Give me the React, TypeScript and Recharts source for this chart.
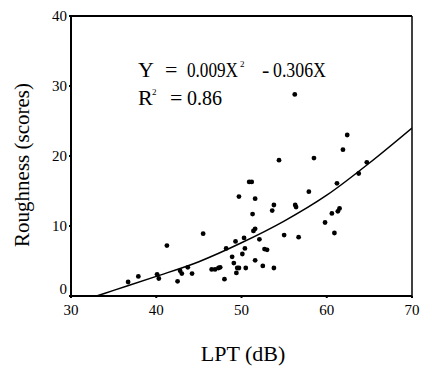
import React from "react";
import {
  ComposedChart, Scatter, Line, XAxis, YAxis, ReferenceLine,
} from "recharts";

// LPT (dB) vs roughness scores
const lpt = [
  36.7, 37.9, 40.1, 40.3, 41.25, 42.5, 42.8, 43.0, 43.7, 44.2,
  45.5, 46.5, 46.9, 47.3, 47.5, 48.0, 48.2, 48.9, 49.1, 49.3,
  49.4, 49.5, 49.7, 49.7, 50.1, 50.3, 50.4, 50.5, 50.9, 51.2,
  51.3, 51.4, 51.6, 51.6, 51.6, 52.1, 52.5, 52.7, 53.0, 53.6,
  53.8, 53.8, 54.4, 55.0, 56.25, 56.3, 56.4, 56.7, 57.9, 58.5,
  59.8, 60.6, 60.9, 61.2, 61.3, 61.5, 61.9, 62.4, 63.75, 64.7,
];
const roughness = [
  2.0, 2.8, 3.1, 2.5, 7.2, 2.1, 3.6, 3.2, 4.1, 3.2,
  8.9, 3.8, 3.8, 4.0, 4.1, 2.4, 6.8, 5.6, 4.7, 7.8,
  3.3, 4.0, 14.2, 4.0, 6.0, 8.3, 6.8, 4.0, 16.3, 16.3,
  11.7, 9.3, 13.9, 9.6, 5.1, 8.1, 4.3, 6.7, 6.6, 12.2,
  13.0, 4.0, 19.4, 8.7, 28.8, 13.0, 12.7, 8.4, 14.9, 19.7,
  10.5, 11.8, 9.0, 16.1, 12.1, 12.5, 20.9, 23.0, 17.5, 19.1,
];

// fitted curve as drawn
const fitX = [33, 35, 40, 45, 50, 55, 60, 65, 70];
const fitY = [0, 0.8, 2.8, 4.9, 7.6, 10.7, 14.4, 19.0, 24.0];

const xTicks = [30, 40, 50, 60, 70];
const yTicks = [0, 10, 20, 30, 40];

const points = lpt.map((x, i) => ({ x, y: roughness[i] }));
const fit = fitX.map((x, i) => ({ x, y: fitY[i] }));

const FONT = "'Liberation Serif', 'DejaVu Serif', 'Times New Roman', Times, serif";

const XTick = (props: any) => {
  const { x, y, payload } = props;
  return (
    <text x={x} y={y} dy="0.9em" textAnchor="middle" style={{ fontFamily: FONT }} fontSize={15} fill="#000">
      {payload.value}
    </text>
  );
};

const YTick = (props: any) => {
  const { x, y, payload } = props;
  const dy = payload.value === 0 ? -7 : 0;
  return (
    <text x={x} y={y + dy} dy="0.35em" textAnchor="end" style={{ fontFamily: FONT }} fontSize={15} fill="#000">
      {payload.value}
    </text>
  );
};

export default function App() {
  return (
    <div style={{ position: "absolute", left: 0, top: 0, width: 422, height: 372, background: "#fff" }}>
      <ComposedChart width={422} height={372} margin={{ top: 16, right: 10, left: 0, bottom: 0 }}>
        <XAxis
          type="number"
          dataKey="x"
          domain={[30, 70]}
          ticks={xTicks}
          allowDataOverflow
          height={76}
          tickSize={2}
          tickMargin={3}
          stroke="#000"
          strokeWidth={2}
          tick={<XTick />}
        />
        <YAxis
          type="number"
          dataKey="y"
          domain={[0, 40]}
          ticks={yTicks}
          allowDataOverflow
          width={71}
          tickSize={2}
          tickMargin={2}
          stroke="#000"
          strokeWidth={2}
          tick={<YTick />}
        />
        <ReferenceLine y={40} stroke="#000" strokeWidth={2} />
        <ReferenceLine x={70} stroke="#000" strokeWidth={1.5} />
        <Line
          data={fit}
          dataKey="y"
          type="monotone"
          stroke="#000"
          strokeWidth={1.5}
          dot={false}
          isAnimationActive={false}
        />
        <Scatter
          data={points}
          fill="#000"
          isAnimationActive={false}
          shape={(p: any) => <circle cx={p.cx} cy={p.cy} r={2.4} fill="#000" />}
        />
      </ComposedChart>
      <svg
        width={422}
        height={372}
        style={{ position: "absolute", left: 0, top: 0, pointerEvents: "none", fontFamily: FONT }}
      >
        <g fill="#000" fontSize={22}>
          {/* equation, condensed like the original print */}
          <text x={138} y={77}>Y</text>
          <text x={165} y={77}>=</text>
          <text transform="translate(187 77) scale(0.78 1)">0.009X</text>
          <text x={240} y={67} fontSize={9}>2</text>
          <text x={262} y={77}>-</text>
          <text transform="translate(273 77) scale(0.81 1)">0.306X</text>
          <text x={138} y={105}>R</text>
          <text x={152} y={95} fontSize={9}>2</text>
          <text x={170} y={105}>=</text>
          <text transform="translate(187 105) scale(0.91 1)">0.86</text>
          <text x={243} y={361} textAnchor="middle">LPT (dB)</text>
          <text x={29} y={165} fontSize={21} textAnchor="middle" transform="rotate(-90 29 165)">
            Roughness (scores)
          </text>
        </g>
      </svg>
    </div>
  );
}
